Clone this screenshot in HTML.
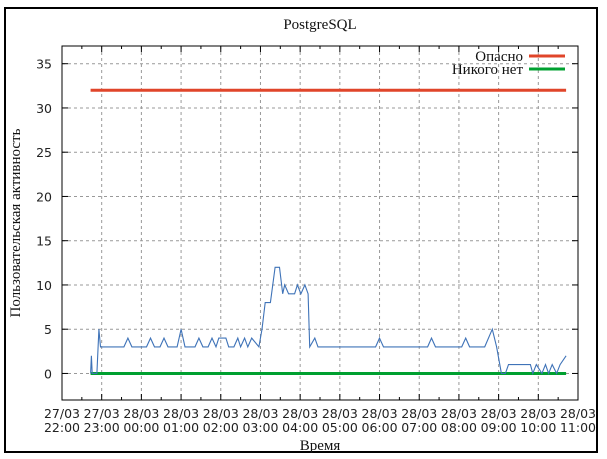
<!DOCTYPE html>
<html><head><meta charset="utf-8">
<style>
html,body{margin:0;padding:0;background:#fff;}
svg{display:block;}
.tick{font-family:"DejaVu Sans","Liberation Sans",sans-serif;font-size:12.5px;fill:#222;}
.serif{font-family:"Liberation Serif","DejaVu Serif",serif;font-size:15px;fill:#111;}
</style></head>
<body>
<svg id="chart" width="607" height="459" xmlns="http://www.w3.org/2000/svg">
<rect x="0" y="0" width="607" height="459" fill="#fff"/>
<rect x="5" y="8" width="592" height="444" fill="none" stroke="#000" stroke-width="2"/>
<text x="320" y="29" text-anchor="middle" class="serif">PostgreSQL</text>
<text x="320" y="450" text-anchor="middle" class="serif">Время</text>
<text transform="translate(20,223) rotate(-90)" text-anchor="middle" class="serif">Пользовательская активность</text>
<g id="grid"></g>
<g id="marks"></g>
<rect x="62" y="46" width="516" height="354" fill="none" stroke="#000" stroke-width="1"/>
<g id="axes"></g>
<g>
<text x="523" y="61" text-anchor="end" class="serif">Опасно</text>
<line x1="529" y1="56" x2="565" y2="56" stroke="#e0452a" stroke-width="3"/>
<text x="523" y="74" text-anchor="end" class="serif">Никого нет</text>
<line x1="529" y1="69" x2="565" y2="69" stroke="#00a030" stroke-width="3"/>
</g>
</svg>
<script>
// hours after 27/03 22:00
const xTickDates = ["27/03","27/03","28/03","28/03","28/03","28/03","28/03","28/03","28/03","28/03","28/03","28/03","28/03","28/03"];
const xTickTimes = ["22:00","23:00","00:00","01:00","02:00","03:00","04:00","05:00","06:00","07:00","08:00","09:00","10:00","11:00"];
const yTicks = [0,5,10,15,20,25,30,35];
const activityHours = [0.72,0.74,0.76,0.88,0.93,0.97,1.0,1.56,1.66,1.76,2.13,2.23,2.33,2.47,2.57,2.67,2.9,3.0,3.1,3.35,3.45,3.55,3.68,3.78,3.88,3.95,4.02,4.13,4.2,4.33,4.43,4.5,4.6,4.68,4.78,4.96,5.04,5.12,5.25,5.37,5.48,5.56,5.61,5.71,5.86,5.93,6.02,6.12,6.2,6.24,6.37,6.45,7.9,8.0,8.1,9.21,9.31,9.41,10.07,10.17,10.27,10.65,10.84,10.95,11.07,11.17,11.25,11.8,11.86,11.95,12.09,12.18,12.26,12.35,12.46,12.55,12.7];
const activityValues = [0,2,0,0,5,3,3,3,4,3,3,4,3,3,4,3,3,5,3,3,4,3,3,4,3,4,4,4,3,3,4,3,4,3,4,3,5,8,8,12,12,9,10,9,9,10,9,10,9,3,4,3,3,4,3,3,4,3,3,4,3,3,5,3,0,0,1,1,0,1,0,1,0,1,0,1,2];
const dangerLevel = 32;
const idleLevel = 0;
const seriesStart = 0.72, seriesEnd = 12.7;

const X0=62, X1=578, Y0=400, Y1=46, HMAX=13, VMIN=-3, VMAX=37;
const sx = h => X0 + (X1-X0)*h/HMAX;
const sy = v => Y0 - (Y0-Y1)*(v-VMIN)/(VMAX-VMIN);
const NS="http://www.w3.org/2000/svg";
function mk(tag, attrs, parent){const e=document.createElementNS(NS,tag);for(const k in attrs)e.setAttribute(k,attrs[k]);parent.appendChild(e);return e;}
const grid=document.getElementById('grid'), axes=document.getElementById('axes'), marks=document.getElementById('marks');

yTicks.forEach(v=>{
  const y=sy(v);
  const g=mk('line',{x1:X0,x2:X1,y1:y,y2:y,stroke:'#999','stroke-width':1,'stroke-dasharray':'3,3'},grid);
  
  
  mk('line',{x1:X0,x2:X0+6,y1:y,y2:y,stroke:'#000'},axes);
  mk('line',{x1:X1,x2:X1-6,y1:y,y2:y,stroke:'#000'},axes);
  const t=mk('text',{x:X0-10,y:y+5,'text-anchor':'end',class:'tick'},axes);
  t.textContent=v;
  
  
});
xTickTimes.forEach((tm,i)=>{
  const x=sx(i);
  if(i>0&&i<HMAX){
    const g=mk('line',{x1:x,x2:x,y1:Y1,y2:Y0,stroke:'#999','stroke-width':1,'stroke-dasharray':'3,3'},grid);
    
    
  }
  mk('line',{x1:x,x2:x,y1:Y0,y2:Y0-6,stroke:'#000'},axes);
  mk('line',{x1:x,x2:x,y1:Y1,y2:Y1+6,stroke:'#000'},axes);
  if(i<HMAX){const xm=sx(i+0.5);
    mk('line',{x1:xm,x2:xm,y1:Y0,y2:Y0-3,stroke:'#000'},axes);
    mk('line',{x1:xm,x2:xm,y1:Y1,y2:Y1+3,stroke:'#000'},axes);}
  const t=mk('text',{x:x,y:Y0+18,'text-anchor':'middle',class:'tick'},axes);
  t.textContent=xTickDates[i];
  
  
  const t2=mk('text',{x:x,y:Y0+32,'text-anchor':'middle',class:'tick'},axes);
  t2.textContent=tm;
  
  
});
const red=mk('line',{x1:sx(seriesStart),x2:sx(seriesEnd),y1:sy(dangerLevel),y2:sy(dangerLevel),stroke:'#e0452a','stroke-width':3},marks);


const green=mk('line',{x1:sx(seriesStart),x2:sx(seriesEnd),y1:sy(idleLevel),y2:sy(idleLevel),stroke:'#00a030','stroke-width':3},marks);


const pts=activityHours.map((h,i)=>sx(h).toFixed(1)+','+sy(activityValues[i]).toFixed(1)).join(' ');
const pl=mk('polyline',{points:pts,fill:'none',stroke:'#3f73b8','stroke-width':1.1},marks);


</script>
</body></html>
